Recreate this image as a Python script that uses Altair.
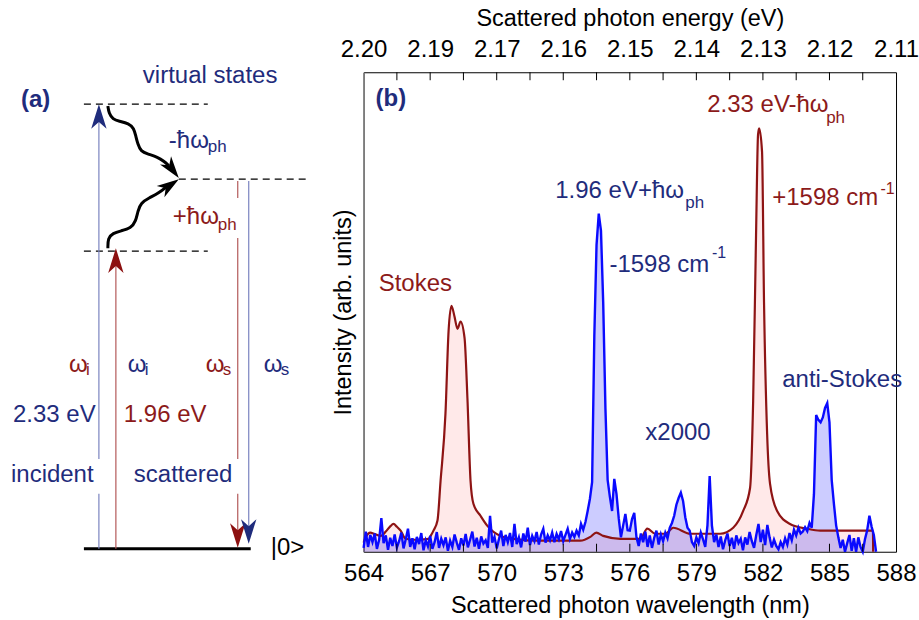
import json
import altair as alt
import numpy as np
import pandas as pd

FONT = "Liberation Sans"
NAVY = "#1f2c7c"
DRED = "#8c1a1a"

# ---------------- panel (b): spectra ----------------
wl_start, wl_step = 564.0, 0.1
blue_int = [
    0.8, 4.2, 1.0, 3.5, 2.0, 3.8, 0.6, 2.5, 7.0, 1.8,
    3.4, 0.4, 2.9, 1.2, 3.6, 0.9, 2.2, 4.0, 0.7, 2.6,
    4.8, 1.0, 2.8, 0.5, 3.1, 1.6, 3.9, 0.3, 2.4, 1.1,
    3.3, 0.6, 2.0, 4.1, 0.8, 2.7, 1.4, 3.0, 0.2, 2.3,
    1.0, 3.6, 1.9, 0.4, 2.8, 1.3, 3.7, 0.9, 2.5, 4.2,
    1.1, 2.9, 0.6, 3.2, 1.7, 2.4, 0.8, 7.5, 1.9, 3.1,
    0.7, 2.6, 4.4, 1.2, 3.5, 2.0, 3.9, 1.0, 5.8, 1.6,
    3.0, 0.9, 3.8, 2.1, 5.0, 1.4, 3.3, 2.2, 4.1, 1.5,
    3.6, 4.8, 1.9, 3.4, 2.4, 4.0, 2.0, 3.7, 2.6, 4.3,
    2.2, 3.5, 4.8, 2.7, 4.0, 3.1, 4.4, 3.4, 5.8, 4.6,
    6.2, 8.5, 11.0, 14.5, 45.0, 64.0, 70.5, 67.0, 52.0, 30.0,
    15.0, 11.5, 8.5, 15.2, 12.0, 7.0, 3.0, 5.5, 7.9, 4.5,
    4.4, 6.8, 8.1, 3.0, 1.2, 3.8, 2.0, 4.2, 1.0, 3.4,
    0.8, 2.9, 4.4, 1.5, 3.6, 2.2, 4.0, 2.8, 5.0, 6.0,
    7.5, 9.8, 11.2, 12.3, 10.6, 7.2, 5.0, 4.4, 2.0, 1.2,
    3.0, 1.8, 4.0, 2.6, 1.0, 5.5, 15.8, 5.5, 2.0, 3.6,
    1.0, 3.2, 0.5, 2.4, 3.8, 1.2, 2.9, 0.6, 3.4, 1.8,
    2.7, 0.3, 3.0, 1.5, 4.1, 2.2, 0.8, 3.5, 5.8, 2.0,
    4.6, 1.4, 5.6, 3.0, 0.9, 2.5, 1.2, 0.5, 2.0, 1.0,
    2.8, 1.5, 3.9, 2.4, 4.6, 3.4, 5.0, 3.8, 4.2, 5.1,
    4.3, 6.0, 5.0, 12.0, 28.5, 27.5, 27.0, 28.0, 30.0, 31.0,
    27.0, 15.0, 10.0, 5.5, 3.0, 0.8, 2.5, 0.0, 1.8, 3.5,
    0.2, 2.8, 0.0, 3.0, 1.0, 0.0, 2.6, 4.5, 7.5, 5.2,
    3.5, 0.0,
]
red_wl = [564.00, 564.10, 564.30, 564.50, 564.77, 565.00, 565.20, 565.35, 565.50, 565.67,
          565.89, 566.30, 566.93, 567.02, 567.15, 567.33, 567.47, 567.69, 567.83, 567.96,
          568.10, 568.23, 568.37, 568.55, 568.68, 568.82, 568.95, 569.27, 569.58, 570.17,
          570.75, 571.97, 573.77, 574.22, 574.49, 574.80, 575.57, 576.47, 576.79, 577.15,
          577.60, 577.96, 578.72, 580.07, 580.66, 581.11, 581.42, 581.56, 581.69, 581.78,
          581.83, 581.96, 582.05, 582.19, 582.32, 582.64, 583.22, 583.99, 584.58, 586.96,
          586.97]
red_int = [1.9, 3.0, 4.0, 3.7, 3.3, 4.2, 5.3, 5.8, 5.2, 4.4,
           2.7, 2.5, 2.7, 3.3, 4.4, 6.5, 14.8, 28.8, 46.0, 51.3,
           49.0, 46.5, 48.0, 44.6, 32.0, 14.8, 10.0, 7.5, 5.4, 3.3,
           2.7, 2.3, 2.3, 3.1, 4.0, 3.3, 2.7, 2.7, 4.8, 3.75,
           3.75, 5.0, 3.75, 3.75, 5.0, 8.5, 13.3, 31.5, 66.0, 87.0,
           88.3, 83.5, 52.0, 24.6, 14.2, 8.5, 5.8, 4.8, 4.4, 4.4,
           0.0]

wl_ticks = [564, 567, 570, 573, 576, 579, 582, 585, 588]
energy_labels = ["2.20", "2.19", "2.17", "2.16", "2.15", "2.14", "2.13", "2.12", "2.11"]
minor_ticks = [565.5, 567.0, 568.5, 570.0, 571.5, 573.0, 574.5, 576.0, 577.5,
               579.0, 580.5, 582.0, 583.5, 585.0, 586.5]

ann_text = ["Stokes", "1.96 eV+ħω", "ph", "-1598 cm", "-1", "x2000",
            "2.33 eV-ħω", "ph", "+1598 cm", "-1", "anti-Stokes"]
ann_wl = [564.68, 572.64, 578.50, 575.08, 579.70, 576.70,
          579.49, 584.85, 582.42, 587.30, 582.87]
ann_int = [55.8, 75.2, 72.7, 59.8, 62.3, 24.8,
           93.1, 90.4, 73.75, 75.6, 35.8]
ann_color = [DRED, NAVY, NAVY, NAVY, NAVY, NAVY,
             DRED, DRED, DRED, DRED, NAVY]
ann_size = [24, 24, 17, 24, 16, 24, 24, 17, 24, 16, 24]
b_label = {"t": ["(b)"], "wl": [564.54], "I": [94.4]}

# ---------------- panel (a): energy diagram (schematic units) ----------------
level_x1 = [83, 178, 83]
level_x2 = [207, 310, 207]
level_y = [100.0, 83.15, 66.97]
ground_x = [83, 250]
ground_y = [0.0, 0.0]

seg_x = [98, 98, 115, 237, 237, 237, 248]
seg_y1 = [0.0, 20.2, 0.0, 82.7, 69.9, 12.4, 82.7]
seg_y2 = [12.4, 96.0, 64.0, 78.9, 20.2, 4.0, 4.0]
seg_col = ["#7a84c0", "#7a84c0", "#b35a5a", "#b35a5a", "#b35a5a", "#b35a5a", "#7a84c0"]

head_x = [98, 115, 237, 248, 178, 178]
head_y = [100.0, 67.6, 0.2, 1.1, 83.4, 83.1]
head_ang = [0, 0, 180, 180, 143, 56]
head_sz = [950, 950, 950, 950, 760, 760]
head_col = [NAVY, "#8c1010", "#8c1010", NAVY, "black", "black"]

wave_up_x = [107, 108, 112, 118, 128, 133, 135, 137, 140, 147, 157, 163, 168]
wave_up_y = [99.6, 98.0, 96.6, 96.2, 95.7, 94.6, 92.8, 91.0, 89.4, 88.8, 88.1, 87.2, 86.2]
wave_lo_x = [107, 107, 112, 120, 130, 135, 137, 140, 148, 158, 166]
wave_lo_y = [67.6, 69.9, 71.0, 71.5, 72.1, 73.7, 76.0, 77.8, 78.9, 80.0, 81.5]

a_text = ["virtual states", "-ħω", "ph", "+ħω", "ph",
          "ω", "i", "ω", "i", "ω", "s", "ω", "s",
          "2.33 eV", "1.96 eV", "incident", "scattered", "|0>"]
a_x = [142, 168, 207, 172, 217,
       68, 85, 127, 144, 205, 222, 263, 280,
       12, 123, 10, 133, 270]
a_y = [106.3, 91.7, 90.3, 74.6, 72.8,
       41.3, 40.2, 41.3, 40.2, 41.3, 40.2, 41.3, 40.2,
       30.1, 30.1, 16.6, 16.6, 0.2]
a_col = [NAVY, NAVY, NAVY, DRED, DRED,
         DRED, DRED, NAVY, NAVY, DRED, DRED, NAVY, NAVY,
         NAVY, DRED, NAVY, NAVY, "black"]
a_size = [24, 24, 17, 24, 17,
          24, 17, 24, 17, 24, 17, 24, 17,
          24, 24, 24, 24, 24]
a_label = {"t": ["(a)"], "x": [20], "y": [100.9]}

ARROW = "M0,0 L0.5,1.6 L0,1.15 L-0.5,1.6 Z"

# ================= build panel (a) =================
xa = alt.Scale(domain=[0, 320], nice=False, zero=False)
ya = alt.Scale(domain=[-0.67, 107.19], nice=False, zero=False)

levels_df = pd.DataFrame({"x": level_x1, "x2": level_x2, "y": level_y})
ground_df = pd.DataFrame({"x": [ground_x[0]], "x2": [ground_x[1]], "y": [ground_y[0]]})
seg_df = pd.DataFrame({"x": seg_x, "y": seg_y1, "y2": seg_y2, "col": seg_col})
head_df = pd.DataFrame({"x": head_x, "y": head_y, "ang": head_ang, "sz": head_sz, "col": head_col})
wave_df = pd.DataFrame({
    "x": wave_up_x + wave_lo_x,
    "y": wave_up_y + wave_lo_y,
    "id": ["up"] * len(wave_up_x) + ["lo"] * len(wave_lo_x),
    "seq": list(range(len(wave_up_x))) + list(range(len(wave_lo_x))),
})
atext_df = pd.DataFrame({"t": a_text, "x": a_x, "y": a_y, "col": a_col, "fs": a_size})
alabel_df = pd.DataFrame(a_label)

AX = lambda f: alt.X(f, scale=xa, axis=None)
AY = lambda f: alt.Y(f, scale=ya, axis=None)

levels = alt.Chart(levels_df).mark_rule(strokeDash=[7, 5], strokeWidth=1.3, color="black").encode(
    x=AX("x:Q"), x2="x2:Q", y=AY("y:Q"))
ground = alt.Chart(ground_df).mark_rule(strokeWidth=3, color="black").encode(
    x=AX("x:Q"), x2="x2:Q", y=AY("y:Q"))
segs = alt.Chart(seg_df).mark_rule(strokeWidth=1.2).encode(
    x=AX("x:Q"), y=AY("y:Q"), y2="y2:Q", color=alt.Color("col:N", scale=None))
waves = alt.Chart(wave_df).mark_line(color="black", strokeWidth=3, interpolate="basis").encode(
    x=AX("x:Q"), y=AY("y:Q"), detail="id:N", order="seq:Q")
heads = alt.Chart(head_df).mark_point(shape=ARROW, filled=True, opacity=1, strokeWidth=0).encode(
    x=AX("x:Q"), y=AY("y:Q"), angle=alt.Angle("ang:Q", scale=None),
    size=alt.Size("sz:Q", scale=None), color=alt.Color("col:N", scale=None))
atexts = alt.Chart(atext_df).mark_text(align="left", baseline="middle", font=FONT).encode(
    x=AX("x:Q"), y=AY("y:Q"), text="t:N", color=alt.Color("col:N", scale=None),
    size=alt.Size("fs:Q", scale=None))
alabel = alt.Chart(alabel_df).mark_text(align="left", baseline="middle", font=FONT, fontSize=24,
                                        fontWeight="bold", color=NAVY).encode(
    x=AX("x:Q"), y=AY("y:Q"), text="t:N")

left = alt.layer(levels, ground, segs, waves, heads, atexts, alabel).properties(
    width=320, height=480, view=alt.ViewBackground(stroke="transparent"))

# ================= build panel (b) =================
xs = alt.Scale(domain=[564, 588], nice=False, zero=False)
ys = alt.Scale(domain=[0, 100], nice=False, zero=False)

blue_df = pd.DataFrame({"wl": np.round(wl_start + wl_step * np.arange(len(blue_int)), 2), "I": blue_int})
red_df = pd.DataFrame({"wl": red_wl, "I": red_int})
minor_df = pd.DataFrame({"wl": minor_ticks})
ann_df = pd.DataFrame({"t": ann_text, "wl": ann_wl, "I": ann_int, "col": ann_color, "fs": ann_size})
b_df = pd.DataFrame(b_label)

x_bottom = alt.X("wl:Q", scale=xs, axis=alt.Axis(
    orient="bottom", values=wl_ticks, ticks=False, domain=False, grid=False, format="d",
    labelFontSize=24, labelPadding=10, labelFlush=False, labelOverlap=False,
    title="Scattered photon wavelength (nm)", titleFontSize=23.5, titleFontWeight="normal",
    titlePadding=8))
y_left = alt.Y("I:Q", scale=ys, axis=alt.Axis(
    labels=False, ticks=False, grid=False, domain=True, domainColor="#808080", domainWidth=1.5,
    title="Intensity (arb. units)", titleFontSize=23.5, titleFontWeight="normal", titlePadding=8))
XS = alt.X("wl:Q", scale=xs)
YS = alt.Y("I:Q", scale=ys)

red_area = alt.Chart(red_df).mark_area(fill="#ff0000", fillOpacity=0.085, interpolate="monotone").encode(
    x=x_bottom, y=y_left)
blue_area = alt.Chart(blue_df).mark_area(fill="#0000ff", fillOpacity=0.2).encode(x=XS, y=YS)
red_line = alt.Chart(red_df).mark_line(color="#8e1414", strokeWidth=2.2, interpolate="monotone").encode(x=XS, y=YS)
blue_line = alt.Chart(blue_df).mark_line(color="#0a0aff", strokeWidth=2.4).encode(x=XS, y=YS)
bticks = alt.Chart(minor_df).mark_rule(color="black", strokeWidth=1).encode(
    x=XS, y=alt.value(480), y2=alt.value(472))
anns = alt.Chart(ann_df).mark_text(align="left", baseline="middle", font=FONT).encode(
    x=XS, y=YS, text="t:N", color=alt.Color("col:N", scale=None), size=alt.Size("fs:Q", scale=None))
blabel = alt.Chart(b_df).mark_text(align="left", baseline="middle", font=FONT, fontSize=24,
                                   fontWeight="bold", color=NAVY).encode(x=XS, y=YS, text="t:N")

inner = alt.layer(red_area, blue_area, red_line, blue_line, bticks, anns, blabel)

label_expr = "{}[indexof({}, datum.value)]".format(json.dumps(energy_labels), json.dumps(wl_ticks))
top = alt.Chart(minor_df).mark_rule(color="black", strokeWidth=1).encode(
    x=alt.X("wl:Q", scale=xs, axis=alt.Axis(
        orient="top", values=wl_ticks, ticks=False, domain=False, grid=False,
        labelExpr=label_expr, labelFontSize=24, labelPadding=11, labelFlush=False,
        labelOverlap=False, title="Scattered photon energy (eV)", titleFontSize=23.5,
        titleFontWeight="normal", titlePadding=7)),
    y=alt.value(0), y2=alt.value(8))

right = alt.layer(inner, top).resolve_scale(x="independent").properties(
    width=533, height=480, view=alt.ViewBackground(stroke="black", strokeWidth=1))

chart = alt.hconcat(left, right, spacing=43, bounds="flush").properties(
    padding={"left": 0, "top": 5, "right": 0, "bottom": 0}
).configure_view(stroke="transparent").configure_axis(
    labelFont=FONT, titleFont=FONT, labelColor="black", titleColor="black"
).configure(background="white")

chart.save("out.html", embed_options={"renderer": "svg", "actions": False})
